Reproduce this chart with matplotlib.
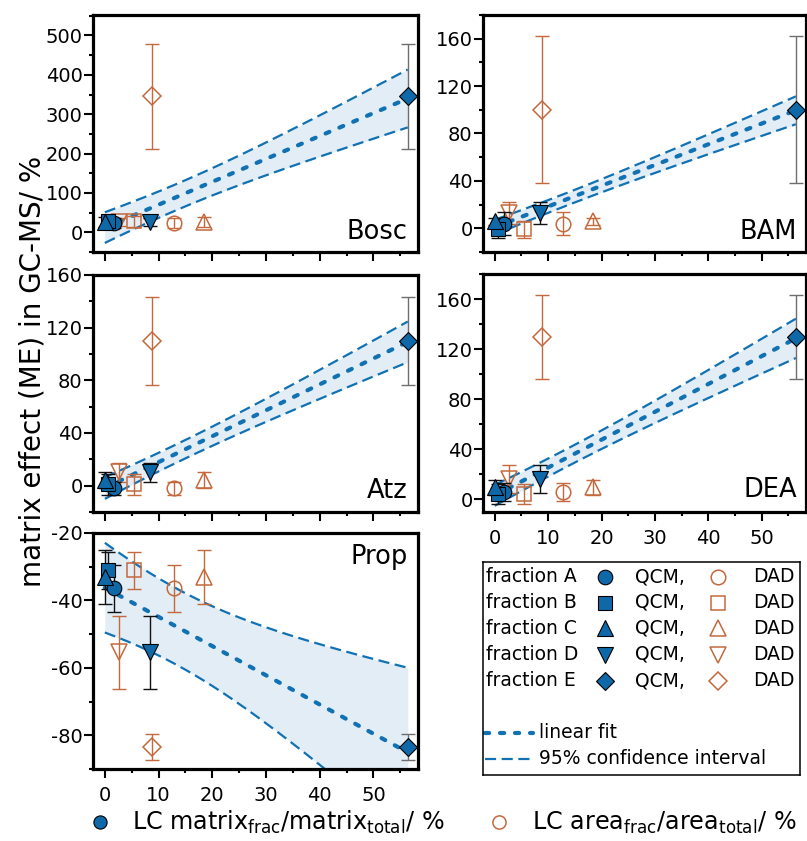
import numpy as np
import matplotlib
matplotlib.use('Agg')
import matplotlib.pyplot as plt
from matplotlib.lines import Line2D
from matplotlib.ticker import MultipleLocator

plt.rcParams['font.family'] = ['DejaVu Sans']
plt.rcParams['mathtext.default'] = 'regular'
plt.rcParams['axes.unicode_minus'] = False

# ---------------- data ----------------
fractions = ['A', 'B', 'C', 'D', 'E']
markers = ['o', 's', '^', 'v', 'D']
x_qcm = [1.7, 0.6, 0.0, 8.4, 56.4]    # LC matrix_frac / matrix_total / %
x_dad = [12.8, 5.4, 18.4, 2.7, 8.8]   # LC area_frac / area_total / %

analytes = ['Bosc', 'BAM', 'Atz', 'DEA', 'Prop']
me_bosc = [24, 28, 27, 26, 345]
err_bosc = [12, 14, 13, 10, 133]
me_bam = [4, -1, 6, 13, 100]
err_bam = [10, 7, 3, 9, 62]
me_atz = [-2, 1, 4, 10, 110]
err_atz = [5, 8, 6, 7, 33.5]
me_dea = [6, 4, 9.6, 16.3, 129.5]
err_dea = [7, 8, 6.3, 11.4, 33.5]
me_prop = [-36.4, -31, -33, -55.4, -83.4]
err_prop = [6.9, 5.5, 8.1, 10.8, 3.9]

ylims = {'Bosc': (-50, 552), 'BAM': (-20, 180), 'Atz': (-20, 160), 'DEA': (-10, 180), 'Prop': (-90, -20)}
ymajor = {'Bosc': 100, 'BAM': 40, 'Atz': 40, 'DEA': 40, 'Prop': 20}
xlim = (-2.2, 58.3)
T95_DF3 = 3.182  # Student t quantile (0.975, df = n-2 = 3)

# ---------------- style ----------------
BLUE = '#0f69a9'
FIT = '#1071b3'
ORANGE = '#c4693d'
BAND = '#e3edf6'
ms = {'o': 10.5, 's': 9.5, '^': 12, 'v': 12, 'D': 9.5}
FIT_LS = (0, (1.0, 2.6))
CI_LS = (0, (5, 2.5))

W, H = 807, 841
fig = plt.figure(figsize=(W / 100, H / 100), dpi=100)


def rect(l, t, r, b):
    return [l / W, 1 - b / H, (r - l) / W, (b - t) / H]


panels = {
    'Bosc': ((93, 15, 418, 252), me_bosc, err_bosc, (0.969, 0.055), False),
    'BAM': ((483, 15, 806, 252), me_bam, err_bam, (0.972, 0.055), False),
    'Atz': ((93, 275, 418, 512), me_atz, err_atz, (0.969, 0.059), False),
    'DEA': ((483, 274, 806, 512), me_dea, err_dea, (0.972, 0.063), True),
    'Prop': ((93, 533, 418, 769), me_prop, err_prop, (0.969, 0.869), True),
}

for name in analytes:
    box, y, e, tpos, xlabels = panels[name]
    ax = fig.add_axes(rect(*box))
    x = np.array(x_qcm, dtype=float)
    yy = np.array(y, dtype=float)
    n = len(x)
    # linear fit with 95 % confidence band
    slope, icpt = np.polyfit(x, yy, 1)
    res = yy - (icpt + slope * x)
    s = np.sqrt(np.sum(res ** 2) / (n - 2))
    sxx = np.sum((x - x.mean()) ** 2)
    xf = np.linspace(x.min(), x.max(), 200)
    yf = icpt + slope * xf
    hw = T95_DF3 * s * np.sqrt(1.0 / n + (xf - x.mean()) ** 2 / sxx)
    ax.fill_between(xf, yf - hw, yf + hw, color=BAND, lw=0, zorder=1)
    ax.plot(xf, yf + hw, color=FIT, lw=1.6, ls=CI_LS, zorder=2)
    ax.plot(xf, yf - hw, color=FIT, lw=1.6, ls=CI_LS, zorder=2)
    ax.plot(xf, yf, color=FIT, lw=3.0, ls=FIT_LS, dash_capstyle='round', zorder=2)

    # DAD (open)
    for i in range(5):
        ax.errorbar(x_dad[i], y[i], yerr=e[i], fmt='none', ecolor=ORANGE, elinewidth=1,
                    capsize=4.7, capthick=1, zorder=3)
        ax.plot(x_dad[i], y[i], marker=markers[i], ms=ms[markers[i]], mfc='none',
                mec=ORANGE, mew=1.1, ls='none', zorder=3)
    # QCM (filled)
    for i in range(5):
        ec = '#6e6e6e' if i == 4 else '#111111'
        ax.errorbar(x_qcm[i], y[i], yerr=e[i], fmt='none', ecolor=ec, elinewidth=1,
                    capsize=4.7, capthick=1, zorder=4)
        ax.plot(x_qcm[i], y[i], marker=markers[i], ms=ms[markers[i]], mfc=BLUE,
                mec='black', mew=0.8, ls='none', zorder=5)

    ax.set_xlim(*xlim)
    ax.set_ylim(*ylims[name])
    ax.xaxis.set_major_locator(MultipleLocator(10))
    ax.xaxis.set_minor_locator(MultipleLocator(5))
    ax.yaxis.set_major_locator(MultipleLocator(ymajor[name]))
    ax.yaxis.set_minor_locator(MultipleLocator(ymajor[name] / 2))
    for sp in ax.spines.values():
        sp.set_linewidth(2.3)
    ax.tick_params(which='major', direction='out', length=6.5, width=1.5, labelsize=14)
    ax.tick_params(which='minor', direction='out', length=3.2, width=1.5)
    ax.tick_params(axis='y', which='major', pad=1)
    ax.tick_params(axis='x', which='major', pad=6)
    if not xlabels:
        ax.tick_params(axis='x', labelbottom=False)
    ax.text(tpos[0], tpos[1], name, transform=ax.transAxes, ha='right', va='baseline',
            fontsize=18.5, zorder=6)

# y label
fig.text(33 / W, 1 - 371 / H, 'matrix effect (ME) in GC-MS/ %', rotation=90,
         ha='center', va='center', fontsize=20)

# ---------------- legend box ----------------
lg = fig.add_axes(rect(483, 562, 800, 775))
lg.set_xlim(483, 800)
lg.set_ylim(775, 562)
lg.set_xticks([])
lg.set_yticks([])
for sp in lg.spines.values():
    sp.set_linewidth(1.1)
rows_y = [577, 602.5, 628, 654.5, 681]
for i in range(5):
    yv = rows_y[i]
    lg.text(486, yv, 'fraction ' + fractions[i], va='center', ha='left', fontsize=13.5)
    lg.plot(605, yv, marker=markers[i], ms=ms[markers[i]], mfc=BLUE, mec='black', mew=0.8)
    lg.text(635, yv, 'QCM,', va='center', ha='left', fontsize=13.5)
    lg.plot(718, yv, marker=markers[i], ms=ms[markers[i]], mfc='none', mec=ORANGE, mew=1.1)
    lg.text(753, yv, 'DAD', va='center', ha='left', fontsize=13.5)
lg.plot([485, 533], [733, 733], color=FIT, lw=3.0, ls=FIT_LS, dash_capstyle='round')
lg.text(539, 733, 'linear fit', va='center', ha='left', fontsize=13.5)
lg.plot([485, 533], [759, 759], color=FIT, lw=1.6, ls=CI_LS)
lg.text(539, 759, '95% confidence interval', va='center', ha='left', fontsize=13.5)

# ---------------- bottom axis labels ----------------
fig.add_artist(Line2D([100 / W], [1 - 822 / H], transform=fig.transFigure, marker='o',
                      ms=9.5, mfc=BLUE, mec='black', mew=0.8))
fig.text(132 / W, 11 / H, 'LC matrix$_{frac}$/matrix$_{total}$/ %', ha='left',
         va='baseline', fontsize=17.2)
fig.add_artist(Line2D([499 / W], [1 - 822 / H], transform=fig.transFigure, marker='o',
                      ms=9.5, mfc='none', mec=ORANGE, mew=1.1))
fig.text(532 / W, 11 / H, 'LC area$_{frac}$/area$_{total}$/ %', ha='left',
         va='baseline', fontsize=17.2)

fig.savefig('out.png', dpi=100)
